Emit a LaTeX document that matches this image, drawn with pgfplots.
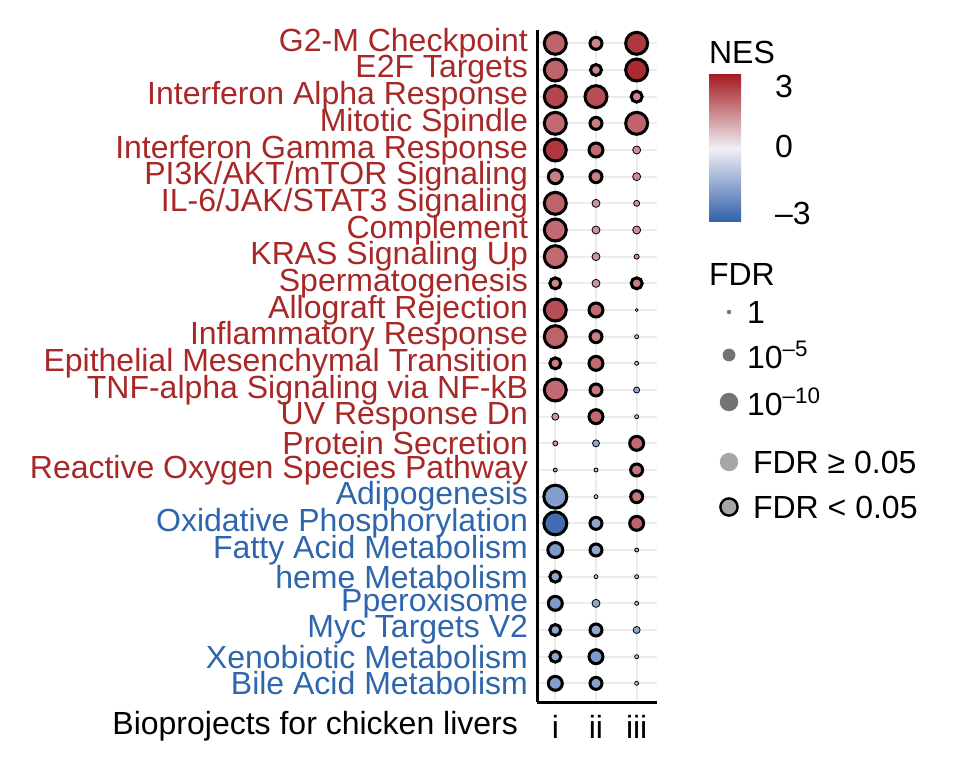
\documentclass[border=0pt]{standalone}
\usepackage{pgfplots}
\pgfplotsset{compat=1.18}
\usepackage{pgfplotstable}
\usepackage{fontspec}
\setmainfont{Liberation Sans}
\definecolor{tred}{RGB}{168,40,40}
\definecolor{tblue}{RGB}{46,102,174}
\definecolor{cblo}{RGB}{47,95,170}
\definecolor{cbmid}{RGB}{240,240,245}
\definecolor{cbhi}{RGB}{165,28,36}
\pgfplotstableread{
x y r c
1 25 12.5 2.0
2 25 7.5 1.5
3 25 12.5 2.6
1 24 12.5 2.0
2 24 7 1.5
3 24 12.5 2.8
1 23 12.5 2.4
2 23 12.5 2.3
3 23 7 1.5
1 22 12.5 1.9
2 22 7.5 1.6
3 22 12.5 2.0
1 21 12.5 2.6
2 21 8.5 1.9
1 20 8.5 1.6
2 20 7.5 1.6
1 19 12.5 2.0
1 18 12.5 1.9
1 17 12.5 1.9
1 16 7 1.5
3 16 7 1.6
1 15 12.5 2.3
2 15 8.5 1.9
1 14 12.5 2.0
2 14 7.5 1.6
1 13 7 1.6
2 13 8.5 1.9
1 12 12.5 1.9
2 12 7.5 1.7
2 11 8.5 1.9
3 10 8.5 1.9
3 9 7.5 1.7
1 8 13 -1.7
3 8 7.5 1.7
1 7 13 -2.7
2 7 7.5 -1.5
3 7 8.5 2.0
1 6 9 -1.8
2 6 7.5 -1.5
1 5 7 -1.5
1 4 8.5 -1.8
1 3 7 -1.5
2 3 7.5 -1.5
1 2 7 -1.5
2 2 8.5 -1.8
1 1 8.5 -1.7
2 1 7.5 -1.6
}\sigtab
\pgfplotstableread{
x y r c
3 21 4 1.4
3 20 4 1.4
2 19 4 1.3
3 19 3 1.3
2 18 4 1.3
3 18 4 1.4
2 17 4 1.3
3 17 2.5 1.3
2 16 4 1.3
3 15 1.5 0.2
3 14 2 -1
3 13 2 -1
3 12 3 -1.5
1 11 3.5 1.3
3 11 2 -1
1 10 2.5 1.3
2 10 3.5 -1.5
1 9 2 1.3
2 9 2 -1
2 8 2 -1
3 6 2 1.3
2 5 2 -1
3 5 2 -1
2 4 4 -1.5
3 4 2 -1
3 3 3.5 -1.5
3 2 2 -1
3 1 2 -1
}\nstab
\begin{document}
\begin{tikzpicture}
\useasboundingbox (0pt,0pt) rectangle (478pt,386pt);
\begin{axis}[
  at={(268.5pt,35pt)}, anchor=south west,
  scale only axis, width=60pt, height=336pt,
  xmin=0.55, xmax=3.5, ymin=0.3, ymax=25.5,
  axis x line*=bottom, axis y line*=left,
  axis line style={line width=1.5pt},
  xtick={1,2,3}, xticklabels={i,ii,iii},
  ytick={1,...,25},
  yticklabels={
   \textcolor{tblue}{Bile Acid Metabolism},
   \textcolor{tblue}{Xenobiotic Metabolism},
   \textcolor{tblue}{Myc Targets V2},
   \textcolor{tblue}{Pperoxisome},
   \textcolor{tblue}{heme Metabolism},
   \textcolor{tblue}{Fatty Acid Metabolism},
   \textcolor{tblue}{Oxidative Phosphorylation},
   \textcolor{tblue}{Adipogenesis},
   \textcolor{tred}{Reactive Oxygen Species Pathway},
   \textcolor{tred}{Protein Secretion},
   \textcolor{tred}{UV Response Dn},
   \textcolor{tred}{TNF-alpha Signaling via NF-kB},
   \textcolor{tred}{Epithelial Mesenchymal Transition},
   \textcolor{tred}{Inflammatory Response},
   \textcolor{tred}{Allograft Rejection},
   \textcolor{tred}{Spermatogenesis},
   \textcolor{tred}{KRAS Signaling Up},
   \textcolor{tred}{Complement},
   \textcolor{tred}{IL-6/JAK/STAT3 Signaling},
   \textcolor{tred}{PI3K/AKT/mTOR Signaling},
   \textcolor{tred}{Interferon Gamma Response},
   \textcolor{tred}{Mitotic Spindle},
   \textcolor{tred}{Interferon Alpha Response},
   \textcolor{tred}{E2F Targets},
   \textcolor{tred}{G2-M Checkpoint}},
  major tick length=0pt,
  tick label style={font=\fontsize{16}{16}\selectfont},
  yticklabel style={xshift=-1pt, inner ysep=0pt},
  xticklabel style={yshift=-3pt},
  grid=major, grid style={line width=1pt, gray!15},
  colormap={nes}{rgb255(0)=(47,95,170) rgb255(1)=(240,240,245) rgb255(2)=(165,28,36)},
  point meta=explicit,
  point meta min=-3, point meta max=3,
  clip=false,
]
\addplot[scatter, only marks, mark=*, draw=none, mark options={draw=none},
  scatter/use mapped color={draw=none, fill=mapped color},
  visualization depends on={0.5*\thisrow{r} \as \ms},
  scatter/@pre marker code/.append style={/tikz/mark size=\ms}]
  table[x=x, y=y, meta=c] {\nstab};
\addplot[scatter, only marks, mark=*,
  scatter/use mapped color={draw=black, fill=mapped color, line width=1.5pt},
  visualization depends on={0.5*\thisrow{r}-0.75 \as \ms},
  scatter/@pre marker code/.append style={/tikz/mark size=\ms}]
  table[x=x, y=y, meta=c] {\sigtab};
\end{axis}
\node[anchor=east, font=\fontsize{16}{16}\selectfont] at (262.5pt,23pt) {Bioprojects for chicken livers};
\begin{scope}[font=\fontsize{16}{16}\selectfont]
\node[anchor=west] at (351pt,360pt) {NES};
\shade[top color=cbhi, bottom color=cblo, middle color=cbmid] (354.5pt,275pt) rectangle (370.5pt,348.5pt);
\node[anchor=west] at (384pt,343pt) {3};
\node[anchor=west] at (384pt,313pt) {0};
\node[anchor=west] at (384pt,279.5pt) {–3};
\node[anchor=west] at (351pt,249pt) {FDR};
\fill[gray!110] (364.5pt,230pt) circle (1.1pt);
\node[anchor=west] at (370pt,230pt) {1};
\fill[gray!110] (364.5pt,208.5pt) circle (3.2pt);
\node[anchor=west] at (370pt,208.5pt) {10\textsuperscript{–5}};
\fill[gray!110] (364.5pt,185pt) circle (4.6pt);
\node[anchor=west] at (370pt,185pt) {10\textsuperscript{–10}};
\fill[gray!70] (364.5pt,155pt) circle (4.6pt);
\node[anchor=west] at (373pt,155pt) {FDR ≥ 0.05};
\filldraw[fill=gray!70, draw=black, line width=1.2pt] (364.5pt,132.5pt) circle (4.3pt);
\node[anchor=west] at (373pt,132.5pt) {FDR < 0.05};
\end{scope}
\end{tikzpicture}
\end{document}
